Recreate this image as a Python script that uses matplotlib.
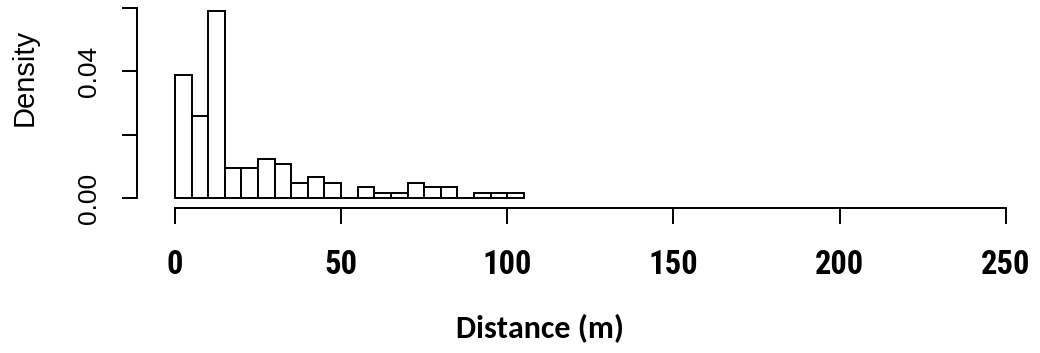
import numpy as np
import matplotlib
matplotlib.use('Agg')
from matplotlib import pyplot as plt

# histogram of distances, 5 m bins, density scale
bin_edges = [0, 5, 10, 15, 20, 25, 30, 35, 40, 45, 50,
             55, 60, 65, 70, 75, 80, 85, 90, 95, 100, 105]
density = [0.0387, 0.0259, 0.0589, 0.0093, 0.0093, 0.0124, 0.0106,
           0.0047, 0.0065, 0.0047, 0.0, 0.0035, 0.0017, 0.0017,
           0.0047, 0.0035, 0.0035, 0.0, 0.0017, 0.0017, 0.0017]
xticks = [0, 50, 100, 150, 200, 250]
yticks = [0.0, 0.02, 0.04, 0.06]
ytick_labels = ['0.00', '', '0.04', '']

narrow = ['Liberation Sans Narrow', 'Arial Narrow', 'Roboto Condensed',
          'Asap Condensed', 'DejaVu Sans']

fig = plt.figure(figsize=(10.4, 3.53), dpi=100)
ax = fig.add_axes([137 / 1040, 1 - 208 / 353, (1039 - 137) / 1040, 208 / 353])

left = np.array(bin_edges[:-1])
widths = np.diff(bin_edges)
ax.bar(left, density, width=widths, align='edge', color='white',
       edgecolor='black', linewidth=1.4)

ax.set_xlim(-11.4, 260)
ax.set_ylim(-0.00315, 0.0624)

for s in ['top', 'right']:
    ax.spines[s].set_visible(False)
ax.spines['left'].set_bounds(0, 0.06)
ax.spines['bottom'].set_bounds(0, 250)
ax.spines['left'].set_linewidth(1.4)
ax.spines['bottom'].set_linewidth(1.4)

ax.set_xticks(xticks)
ax.set_xticklabels([str(t) for t in xticks], family=narrow,
                   fontweight='bold', fontsize=23.5)
ax.tick_params(axis='x', length=11.5, width=1.4, pad=18)

ax.set_yticks(yticks)
ax.set_yticklabels(ytick_labels, rotation=90, va='center',
                   family='Liberation Sans', fontsize=19)
ax.tick_params(axis='y', length=10.8, width=1.4, pad=15)

fig.text(25 / 1040, 1 - 77 / 353, 'Density', rotation=90, ha='center',
         va='center', family='Liberation Sans', fontsize=21)
fig.text(540 / 1040, 1 - 329 / 353, 'Distance (m)', ha='center',
         va='center', family=['Carlito', 'Lato'], fontweight='bold',
         fontsize=23)

fig.savefig('out.png', dpi=100)
